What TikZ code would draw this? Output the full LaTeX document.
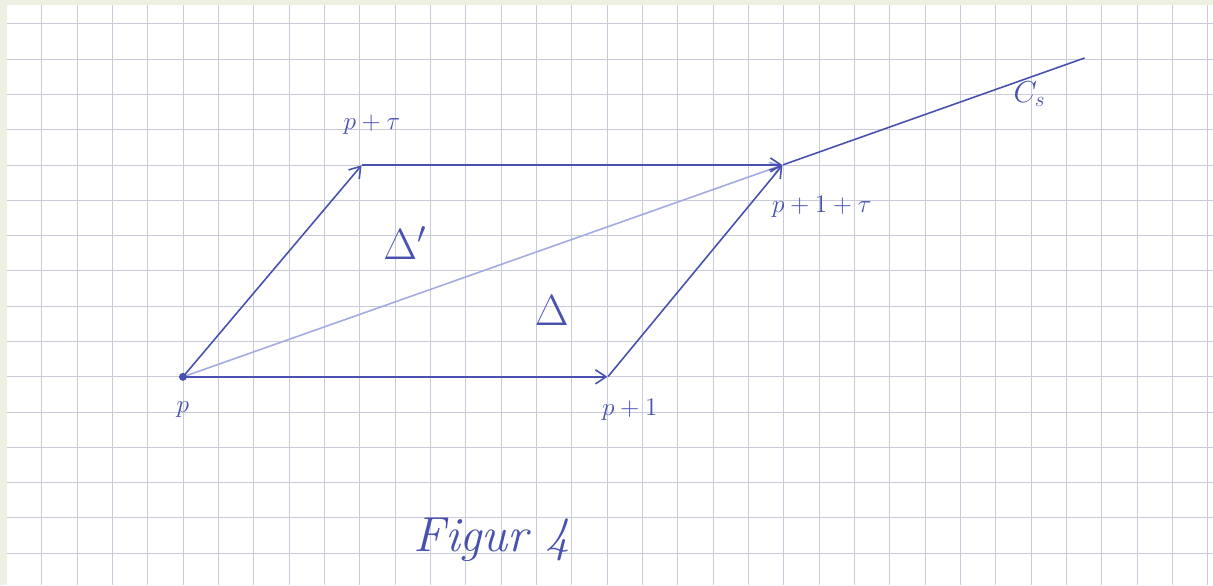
\documentclass[tikz,border=0pt]{standalone}
\usepackage{tikz}
\usetikzlibrary{arrows.meta,positioning}
\definecolor{paper}{HTML}{EEF0E2}
\definecolor{gridline}{HTML}{C9CADA}
\definecolor{ink}{HTML}{4850B0}
\definecolor{inklight}{HTML}{A4AAE2}

\begin{document}
\begin{tikzpicture}[x=0.02cm, y=-0.02cm,
  pt/.style={inner sep=0pt, minimum size=0pt},
  lbl/.style={text=ink, font=\Large},
  tri/.style={text=ink, font=\fontsize{24}{28}\selectfont},
  vec/.style={-{Straight Barb[length=6pt, width=8pt]}, ink, line width=0.9pt},
  faint/.style={-{Straight Barb[length=6pt, width=8pt]}, inklight, line width=0.9pt}
]
  % sheet of squared paper
  \fill[paper] (0,0) rectangle (1213,585);
  \fill[white] (7,5) rectangle (1213,585);
  \foreach \i in {0,...,33}
    \draw[gridline, line width=0.5pt] ({41.7+35.35*\i},5) -- ++(0,580);
  \foreach \j in {0,...,15}
    \draw[gridline, line width=0.5pt] (7,{23.8+35.3*\j}) -- ++(1206,0);

  \node[pt] (p) at (183,377) {};
  \node[pt] (p1) at (608,377) {};
  \node[pt] (pt) at (362,165) {};
  \node[pt] (p1t) at (783,165) {};
  \coordinate (cend) at (1085,58);

  \node[lbl] (lp) at (183,410) {$p$};
  \node[lbl] (lp1) at (630,410) {$p+1$};
  \node[lbl] (lpt) at (372,125) {$p+\tau$};
  \node[lbl] (lp1t) at (822,207) {$p+1+\tau$};
  \node[lbl, font=\LARGE] (lcs) at (1030,94) {$C_s$};
  \node[tri] (dprime) at (405,243) {$\Delta'$};
  \node[tri] (delta) at (552,311) {$\Delta$};
  \node[text=ink, font=\fontsize{28}{32}\selectfont\itshape] (fig) at (492,540) {Figur 4};

  \draw[faint] (p) -- (p1t);
  \draw[ink, line width=0.9pt] (p1t) -- (cend);
  \draw[vec] (p) -- (pt);
  \draw[vec] (pt) -- (p1t);
  \draw[vec] (p) -- (p1);
  \draw[vec] (p1) -- (p1t);
  \fill[ink] (p) circle (4);
\end{tikzpicture}
\end{document}
